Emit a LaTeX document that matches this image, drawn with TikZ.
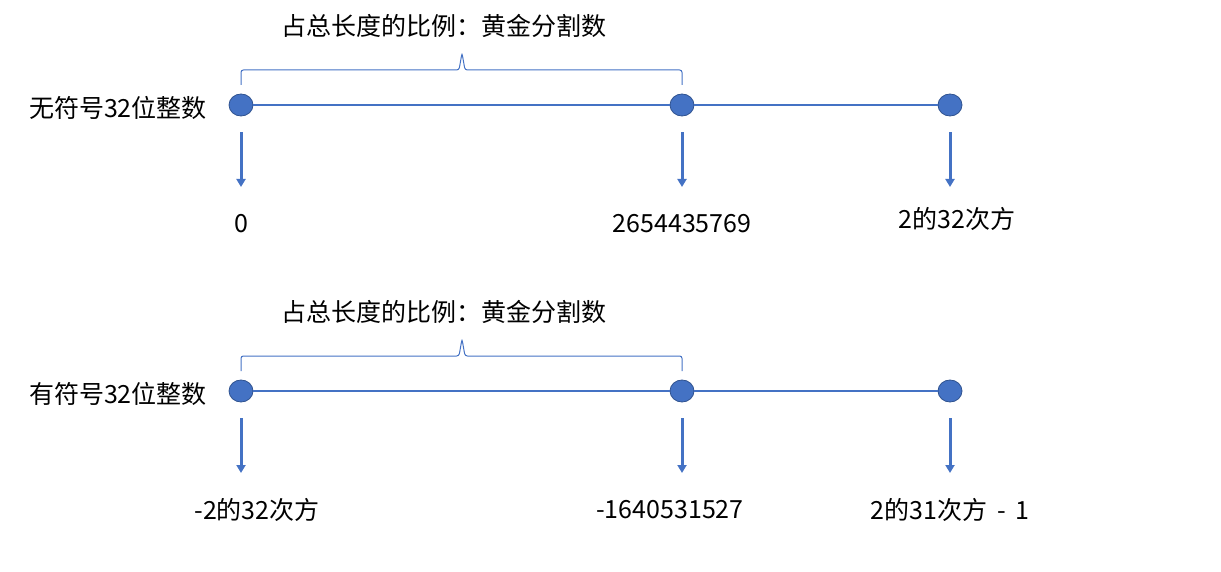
\documentclass[tikz,border=0pt]{standalone}
\usepackage{fontspec}
\newfontfamily\cjk{Noto Sans CJK SC}
\usepackage{tikz}
\usetikzlibrary{arrows.meta,shapes.geometric}
\definecolor{lineblue}{HTML}{4472C4}
\definecolor{dotedge}{HTML}{2F528F}

\begin{document}
\begin{tikzpicture}[x=0.5pt, y=-0.5pt, >={Triangle[width=4.5pt,length=4pt]},
  dot/.style={ellipse, draw=dotedge, line width=0.4pt, fill=lineblue, minimum width=12pt, minimum height=11pt, inner sep=0pt},
  txt/.style={font=\cjk\fontsize{12.5}{15}\selectfont, inner sep=0pt},
  axis/.style={draw=lineblue, line width=0.55pt},
  pointer/.style={draw=lineblue, line width=1.5pt, ->, shorten <=8pt},
  bracket/.style={draw=lineblue, line width=0.5pt, rounded corners=1.2pt}]
\useasboundingbox (0,0) rectangle (1221,572);
\node[dot] (u0) at (241,105) {};
\node[dot] (ug) at (682,105) {};
\node[dot] (um) at (950,105) {};
\draw[axis] (u0) -- (ug) -- (um);
\node[txt] (ulabel) at (118,108) {无符号32位整数};
\node[txt] (utitle) at (444,26) {占总长度的比例：黄金分割数};
\draw[bracket] (u0 |- 0,85) -- (u0 |- 0,70) -- (459,70) -- (462,53) -- (465,70) -- (ug |- 0,70) -- (ug |- 0,85);
\coordinate (u0end) at (241,187);
\coordinate (ugend) at (682,187);
\coordinate (umend) at (950,187);
\draw[pointer] (u0) -- (u0end);
\draw[pointer] (ug) -- (ugend);
\draw[pointer] (um) -- (umend);
\node[txt] (u0val) at (241,224) {0};
\node[txt] (ugval) at (682,224) {2654435769};
\node[txt] (umval) at (957,219) {2的32次方};
\node[dot] (s0) at (241,391) {};
\node[dot] (sg) at (682,391) {};
\node[dot] (sm) at (950,391) {};
\draw[axis] (s0) -- (sg) -- (sm);
\node[txt] (slabel) at (118,394) {有符号32位整数};
\node[txt] (stitle) at (444,312) {占总长度的比例：黄金分割数};
\draw[bracket] (s0 |- 0,371) -- (s0 |- 0,356) -- (459,356) -- (462,339) -- (465,356) -- (sg |- 0,356) -- (sg |- 0,371);
\coordinate (s0end) at (241,473);
\coordinate (sgend) at (682,473);
\coordinate (smend) at (950,473);
\draw[pointer] (s0) -- (s0end);
\draw[pointer] (sg) -- (sgend);
\draw[pointer] (sm) -- (smend);
\node[txt] (s0val) at (257,510) {-2的32次方};
\node[txt] (sgval) at (670,510) {-1640531527};
\node[txt] (smval) at (950,510) {2的31次方 \,-\, 1};
\end{tikzpicture}
\end{document}
